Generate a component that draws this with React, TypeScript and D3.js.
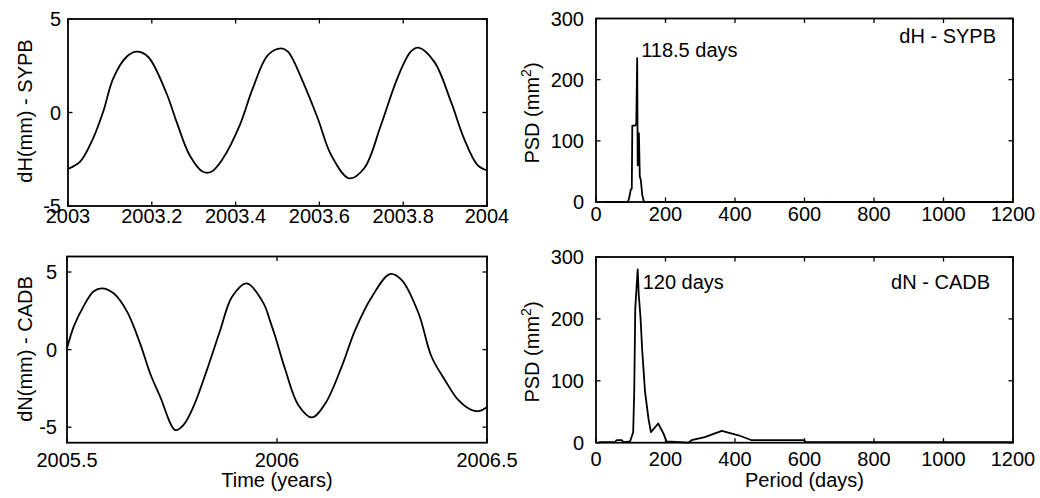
import React from "react";
import * as d3 from "d3";

// ---------- data ----------
// dH - SYPB time series (years, mm)
const dHTime = [2003.000, 2003.029, 2003.060, 2003.084, 2003.108, 2003.140, 2003.164, 2003.191, 2003.235, 2003.259, 2003.290, 2003.322, 2003.342, 2003.370, 2003.410, 2003.441, 2003.477, 2003.509, 2003.525, 2003.564, 2003.596, 2003.628, 2003.671, 2003.707, 2003.747, 2003.786, 2003.818, 2003.836, 2003.874, 2003.914, 2003.945, 2003.977, 2004.000];
const dHValue = [-3.02, -2.63, -1.38, 0.04, 1.83, 2.98, 3.25, 2.98, 1.03, -0.49, -2.27, -3.17, -3.17, -2.45, -0.67, 1.29, 3.07, 3.43, 3.25, 1.47, -0.31, -2.27, -3.52, -2.98, -0.67, 1.83, 3.25, 3.47, 2.72, 0.58, -1.38, -2.8, -3.1];

// dN - CADB time series (years, mm)
const dNTime = [2005.500, 2005.516, 2005.539, 2005.563, 2005.583, 2005.611, 2005.643, 2005.674, 2005.698, 2005.722, 2005.758, 2005.777, 2005.801, 2005.833, 2005.865, 2005.893, 2005.928, 2005.968, 2005.984, 2005.996, 2006.020, 2006.051, 2006.083, 2006.115, 2006.154, 2006.186, 2006.226, 2006.269, 2006.297, 2006.337, 2006.368, 2006.400, 2006.432, 2006.464, 2006.483, 2006.500];
const dNValue = [0.08, 1.48, 2.77, 3.74, 3.95, 3.63, 2.45, 0.40, -1.54, -3.04, -5.19, -4.87, -3.68, -1.32, 1.26, 3.41, 4.27, 2.98, 1.80, 0.83, -1.32, -3.58, -4.37, -3.47, -1.10, 1.26, 3.41, 4.87, 4.48, 2.34, -0.46, -1.97, -3.26, -3.90, -3.95, -3.7];

// PSD of dH - SYPB (period days, mm^2)
const psdHPeriod = [15, 92, 96, 100, 103, 104.5, 113, 116, 118.5, 120, 122, 123.5, 126, 129, 133, 138, 1200];
const psdHValue = [0, 0, 8, 20, 22, 125, 125, 128, 235, 60, 113, 112, 42, 36, 12, 0, 0];

// PSD of dN - CADB (period days, mm^2)
const psdNPeriod = [8, 55, 59, 74, 79, 98, 107, 110, 113, 120, 123, 128, 133, 141, 151, 158, 179, 194, 203, 266, 275, 313, 362, 410, 448, 600, 602, 1200];
const psdNValue = [1, 1, 4, 4, 1, 2, 17, 83, 217, 280, 239, 203, 149, 83, 39, 17, 31, 15, 2, 0, 4, 9, 19, 12, 4, 4, 1, 1];

// ticks
const dHXTicks = [2003, 2003.2, 2003.4, 2003.6, 2003.8, 2004];
const dHYTicks = [-5, 0, 5];
const dNXTicks = [2005.5, 2006, 2006.5];
const dNYTicks = [-5, 0, 5];
const psdXTicks = [0, 200, 400, 600, 800, 1000, 1200];
const psdYTicks = [0, 100, 200, 300];

// ---------- drawing ----------
const FONT = "'Liberation Sans', Arial, Helvetica, sans-serif";
const FS = 20;
const TICK = 4.5;
const SW = 1.8;

type PanelProps = {
  box: { x0: number; x1: number; y0: number; y1: number };
  xDomain: [number, number];
  yDomain: [number, number];
  xTicks: number[];
  yTicks: number[];
  xs: number[];
  ys: number[];
  xLabelBaseline: number;
  yLabelRight: number;
  curve?: any;
};

function Panel(p: PanelProps) {
  const { box } = p;
  const x = d3.scaleLinear().domain(p.xDomain).range([box.x0, box.x1]);
  const y = d3.scaleLinear().domain(p.yDomain).range([box.y1, box.y0]);
  const pts = p.xs.map((v, i) => [v, p.ys[i]] as [number, number]);
  const line = d3
    .line<[number, number]>()
    .x((d) => x(d[0]))
    .y((d) => y(d[1]))
    .curve(p.curve || d3.curveLinear);
  return (
    <g>
      <path d={line(pts) || ""} fill="none" stroke="#000" strokeWidth={SW} strokeLinejoin="round" />
      <rect x={box.x0} y={box.y0} width={box.x1 - box.x0} height={box.y1 - box.y0} fill="none" stroke="#000" strokeWidth={SW} />
      {p.xTicks.map((t) => (
        <g key={"x" + t}>
          <line x1={x(t)} x2={x(t)} y1={box.y1} y2={box.y1 - TICK} stroke="#000" strokeWidth={1.3} />
          <line x1={x(t)} x2={x(t)} y1={box.y0} y2={box.y0 + TICK} stroke="#000" strokeWidth={1.3} />
          <text x={x(t)} y={p.xLabelBaseline} textAnchor="middle" fontFamily={FONT} fontSize={FS} fill="#000">
            {String(t)}
          </text>
        </g>
      ))}
      {p.yTicks.map((t) => (
        <g key={"y" + t}>
          <line x1={box.x0} x2={box.x0 + TICK} y1={y(t)} y2={y(t)} stroke="#000" strokeWidth={1.3} />
          <line x1={box.x1} x2={box.x1 - TICK} y1={y(t)} y2={y(t)} stroke="#000" strokeWidth={1.3} />
          <text x={p.yLabelRight} y={y(t)} dy="0.36em" textAnchor="end" fontFamily={FONT} fontSize={FS} fill="#000">
            {String(t)}
          </text>
        </g>
      ))}
    </g>
  );
}

export default function App() {
  const boxA = { x0: 68, x1: 487, y0: 19, y1: 206 };
  const boxB = { x0: 596, x1: 1013, y0: 18.5, y1: 202 };
  const boxC = { x0: 67, x1: 487, y0: 256.5, y1: 442.7 };
  const boxD = { x0: 596, x1: 1013, y0: 257, y1: 442.7 };
  const psdX = d3.scaleLinear().domain([0, 1200]).range([boxB.x0, boxB.x1]);
  const psdX2 = d3.scaleLinear().domain([0, 1200]).range([boxD.x0, boxD.x1]);
  return (
    <svg
      width={1040}
      height={498}
      viewBox="0 0 1040 498"
      style={{ position: "absolute", left: 0, top: 0, background: "#fff" }}
    >
      <rect x={0} y={0} width={1040} height={498} fill="#fff" />
      <Panel box={boxA} xDomain={[2003, 2004]} yDomain={[-5, 5]} xTicks={dHXTicks} yTicks={dHYTicks}
        xs={dHTime} ys={dHValue} xLabelBaseline={223} yLabelRight={61} curve={d3.curveCatmullRom} />
      <Panel box={boxB} xDomain={[0, 1200]} yDomain={[0, 300]} xTicks={psdXTicks} yTicks={psdYTicks}
        xs={psdHPeriod} ys={psdHValue} xLabelBaseline={221} yLabelRight={584} />
      <Panel box={boxC} xDomain={[2005.5, 2006.5]} yDomain={[-6, 6]} xTicks={dNXTicks} yTicks={dNYTicks}
        xs={dNTime} ys={dNValue} xLabelBaseline={467} yLabelRight={57} curve={d3.curveCatmullRom} />
      <Panel box={boxD} xDomain={[0, 1200]} yDomain={[0, 300]} xTicks={psdXTicks} yTicks={psdYTicks}
        xs={psdNPeriod} ys={psdNValue} xLabelBaseline={466} yLabelRight={584} />

      {/* y axis titles */}
      <text transform="translate(32,111) rotate(-90)" textAnchor="middle" fontFamily={FONT} fontSize={FS}>dH(mm) - SYPB</text>
      <text transform="translate(32,349) rotate(-90)" textAnchor="middle" fontFamily={FONT} fontSize={FS}>dN(mm) - CADB</text>
      <text transform="translate(539,113) rotate(-90)" textAnchor="middle" fontFamily={FONT} fontSize={FS}>
        PSD (mm<tspan dy={-8} fontSize={14}>2</tspan><tspan dy={8}>)</tspan>
      </text>
      <text transform="translate(539,352) rotate(-90)" textAnchor="middle" fontFamily={FONT} fontSize={FS}>
        PSD (mm<tspan dy={-8} fontSize={14}>2</tspan><tspan dy={8}>)</tspan>
      </text>

      {/* x axis titles */}
      <text x={(boxC.x0 + boxC.x1) / 2} y={487} textAnchor="middle" fontFamily={FONT} fontSize={FS}>Time (years)</text>
      <text x={(boxD.x0 + boxD.x1) / 2} y={487} textAnchor="middle" fontFamily={FONT} fontSize={FS}>Period (days)</text>

      {/* annotations */}
      <text x={psdX(118.5) + 4} y={57} fontFamily={FONT} fontSize={FS}>118.5 days</text>
      <text x={996} y={43} textAnchor="end" fontFamily={FONT} fontSize={FS}>dH - SYPB</text>
      <text x={psdX2(120) + 5} y={288.5} fontFamily={FONT} fontSize={FS}>120 days</text>
      <text x={990} y={288.5} textAnchor="end" fontFamily={FONT} fontSize={FS}>dN - CADB</text>
    </svg>
  );
}
